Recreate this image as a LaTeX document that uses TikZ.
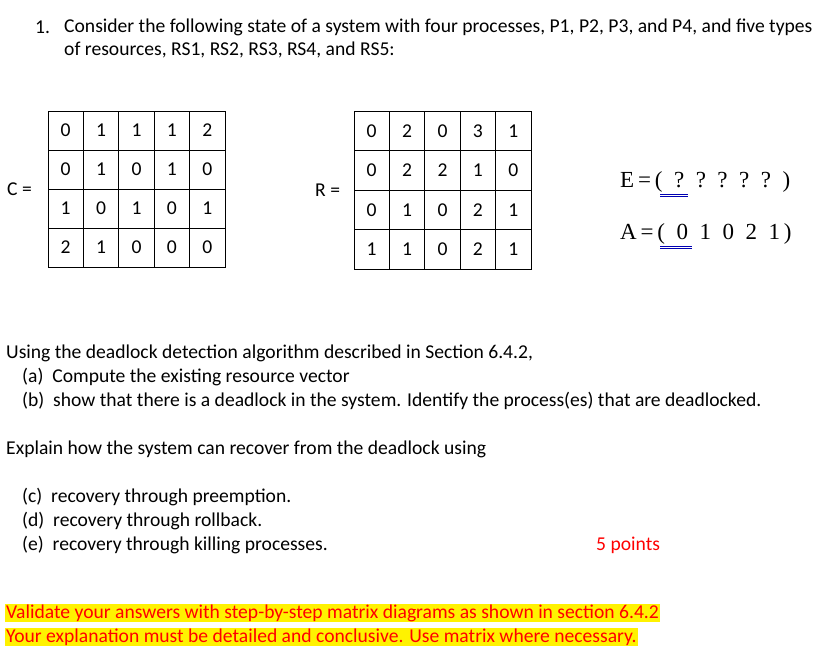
\documentclass[tikz,border=0pt]{standalone}
\usepackage{fontspec}
\setmainfont{Carlito}
\newfontfamily\tnr{Liberation Serif}
\begin{document}
\begin{tikzpicture}[x=1pt,y=-1pt,
  txt/.style={anchor=west,inner sep=0pt,font=\fontsize{19.6}{22}\selectfont},
  cellbox/.style={draw,line width=0.9pt,minimum width=35.4pt,minimum height=39pt,inner sep=0pt,font=\fontsize{19.6}{22}\selectfont},
  ser/.style={anchor=west,inner sep=0pt,font=\tnr\fontsize{23}{26}\selectfont},
  hl/.style={anchor=west,inner sep=1pt,fill=yellow,font=\fontsize{19.6}{22}\selectfont}]
\useasboundingbox (0,0) rectangle (823,658);
\node[txt] (n1) at (35,27) {1.};
\node[txt] (l1) at (64,27) {Consider the following state of a system with four processes, P1, P2, P3, and P4, and five types};
\node[txt] (l2) at (64,50) {of resources, RS1, RS2, RS3, RS4, and RS5:};
\node[txt] (ceq) at (7,189) {C =};
\node[txt] (req) at (315,190) {R =};
\foreach \r/\row in {0/{0,1,1,1,2},1/{0,1,0,1,0},2/{1,0,1,0,1},3/{2,1,0,0,0}}{
  \foreach \v [count=\c from 0] in \row {
    \node[cellbox] (c\r\c) at (65.7+35.4*\c,130.5+39*\r) {\v};
  }}
\foreach \r/\row in {0/{0,2,0,3,1},1/{0,2,2,1,0},2/{0,1,0,2,1},3/{1,1,0,2,1}}{
  \foreach \v [count=\c from 0] in \row {
    \node[cellbox,minimum height=39.5pt] (r\r\c) at (371.7+35.4*\c,130.8+39.5*\r) {\v};
  }}
\node[ser] (E) at (620,182) {E\,=\,(\ \ ?\ \ ?\ \ ?\ \ ?\ \ ?\ \ )};
\node[ser] (A) at (620,234) {A\,=\,(\ \ 0\ \ 1\ \ 0\ \ 2\ \ 1\,)};
\draw[blue!70!black,line width=0.6pt] (660,194) -- (688,194) (660,196.5) -- (688,196.5);
\draw[blue!70!black,line width=0.6pt] (660,246) -- (692,246) (660,248.5) -- (692,248.5);
\node[txt] (u) at (6,353) {Using the deadlock detection algorithm described in Section 6.4.2,};
\node[txt] (a) at (22,377) {(a)\ \ Compute the existing resource vector};
\node[txt] (b) at (22,401) {(b)\ \ show that there is a deadlock in the system. Identify the process(es) that are deadlocked.};
\node[txt] (ex) at (6,449) {Explain how the system can recover from the deadlock using};
\node[txt] (c) at (22,497) {(c)\ \ recovery through preemption.};
\node[txt] (d) at (22,521) {(d)\ \ recovery through rollback.};
\node[txt] (e) at (22,545) {(e)\ \ recovery through killing processes.};
\node[txt,text=red] (p) at (596,545) {5 points};
\node[hl,text=red] (v1) at (5,613) {Validate your answers with step-by-step matrix diagrams as shown in section 6.4.2};
\node[hl,text=red] (v2) at (5,637) {Your explanation must be detailed and conclusive. Use matrix where necessary.};
\end{tikzpicture}
\end{document}
